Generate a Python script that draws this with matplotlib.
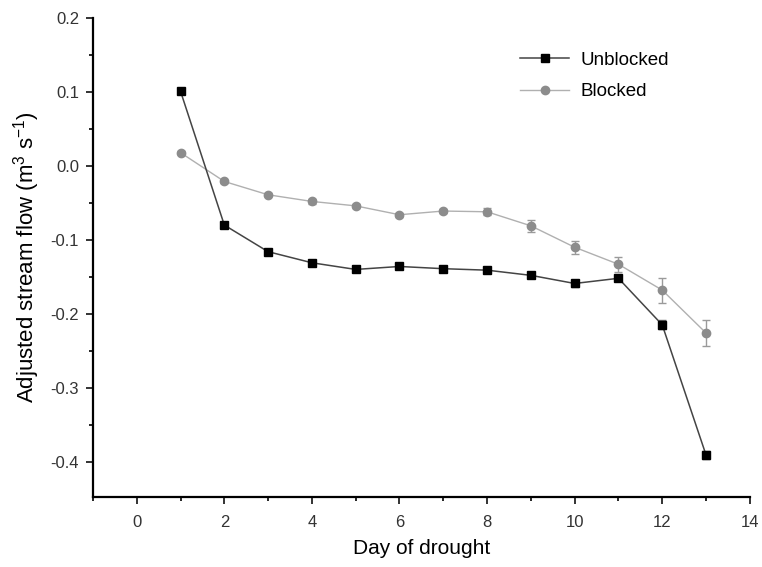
import numpy as np
import matplotlib
matplotlib.use("Agg")
import matplotlib.pyplot as plt
from matplotlib.ticker import MultipleLocator
from matplotlib.lines import Line2D

plt.rcParams["font.family"] = ["Liberation Sans", "DejaVu Sans"]
plt.rcParams["mathtext.default"] = "regular"
plt.rcParams["axes.unicode_minus"] = False

days = [1, 2, 3, 4, 5, 6, 7, 8, 9, 10, 11, 12, 13]
unblocked = [0.101, -0.080, -0.116, -0.131, -0.140, -0.136, -0.139, -0.141,
             -0.148, -0.159, -0.152, -0.215, -0.391]
unblocked_err = [0.002, 0.002, 0.002, 0.002, 0.002, 0.002, 0.002, 0.002,
                 0.002, 0.005, 0.003, 0.006, 0.005]
blocked = [0.018, -0.021, -0.039, -0.048, -0.054, -0.066, -0.061, -0.062,
           -0.081, -0.110, -0.133, -0.168, -0.226]
blocked_err = [0.002, 0.002, 0.002, 0.003, 0.003, 0.003, 0.003, 0.005,
               0.008, 0.009, 0.010, 0.017, 0.018]

fig = plt.figure(figsize=(7.62, 5.67), dpi=100)
ax = fig.add_axes([0.122, 0.124, 0.862, 0.844])

blk_line = "#b0b0b0"
blk_mark = "#8c8c8c"
unb_line = "#444444"

ax.errorbar(days, blocked, yerr=blocked_err, color=blk_line, lw=1.0,
            marker="o", ms=6, mfc=blk_mark, mec=blk_mark,
            ecolor="#9a9a9a", elinewidth=1, capsize=3, zorder=2)
ax.errorbar(days, unblocked, yerr=unblocked_err, color=unb_line, lw=1.1,
            marker="s", ms=6, mfc="black", mec="black",
            ecolor="#666666", elinewidth=1, capsize=3, zorder=3)

ax.set_xlim(-1, 14)
ax.set_ylim(-0.4475, 0.2)
ax.xaxis.set_major_locator(MultipleLocator(2))
ax.xaxis.set_minor_locator(MultipleLocator(1))
ax.yaxis.set_major_locator(MultipleLocator(0.1))
ax.yaxis.set_minor_locator(MultipleLocator(0.05))
ax.yaxis.set_major_formatter(matplotlib.ticker.FormatStrFormatter("%.1f"))

for s in ["top", "right"]:
    ax.spines[s].set_visible(False)
for s in ["left", "bottom"]:
    ax.spines[s].set_linewidth(1.6)
ax.tick_params(which="major", length=5, width=1.4, labelsize=12, colors="#333333")
ax.tick_params(axis="x", which="major", pad=8)
ax.tick_params(axis="y", which="major", pad=5)
ax.tick_params(which="minor", length=3, width=1.2)

ax.set_xlabel("Day of drought", fontsize=15, labelpad=7)
ax.set_ylabel("Adjusted stream flow (m$^3$ s$^{-1}$)", fontsize=16, labelpad=6)

handles = [
    Line2D([], [], color=unb_line, lw=1.1, marker="s", ms=6, mfc="black", mec="black"),
    Line2D([], [], color=blk_line, lw=1.0, marker="o", ms=6, mfc=blk_mark, mec=blk_mark),
]
ax.legend(handles, ["Unblocked", "Blocked"], loc="upper left",
          bbox_to_anchor=(0.625, 0.965), frameon=False, fontsize=13.5,
          handlelength=2.6, handletextpad=0.6, labelspacing=0.75)

fig.savefig("out.png", dpi=100)
